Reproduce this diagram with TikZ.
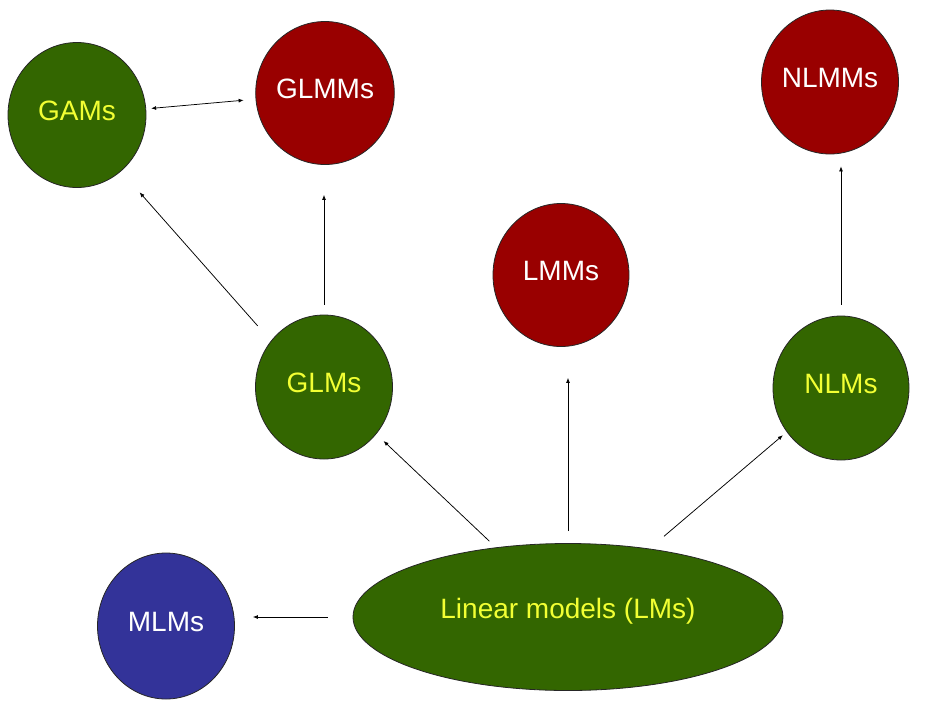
\documentclass[tikz,border=0pt]{standalone}
\usepackage{fontspec}
\setmainfont{Liberation Sans}
\usetikzlibrary{arrows.meta,shapes.geometric}
\definecolor{lmgreen}{HTML}{336600}
\definecolor{lmred}{HTML}{990000}
\definecolor{lmblue}{HTML}{333399}
\definecolor{lmyellow}{HTML}{F2FF33}

\begin{document}
\begin{tikzpicture}[x = 1pt, y = -1pt,
  model/.style = {shape = ellipse, draw = black!85, line width = 0.8pt, inner sep = 0pt, minimum width = 137pt, minimum height = 144pt, text height = 20pt, text depth = 10pt, font = \fontsize{28}{32}\selectfont},
  fixed/.style = {model, fill = lmgreen, text = lmyellow},
  mixed/.style = {model, fill = lmred, text = white},
  multi/.style = {model, fill = lmblue, text = white},
  link/.style = {line width = 0.75pt, -{Latex[length = 5pt, width = 4pt]}}]
\useasboundingbox (0,0) rectangle (930,724);
\node[fixed, minimum width = 138pt, minimum height = 145pt] (gam) at (77,115) {GAMs};
\node[mixed, minimum height = 143pt] (glmm) at (325,93) {GLMMs};
\node[mixed] (nlmm) at (830,82) {NLMMs};
\node[mixed, minimum width = 136pt, minimum height = 143pt] (lmm) at (561,275) {LMMs};
\node[fixed] (glm) at (324,387) {GLMs};
\node[fixed, minimum width = 136pt] (nlm) at (841,388) {NLMs};
\node[fixed, minimum width = 430pt, minimum height = 147pt, text depth = 18pt] (lm) at (568,617) {Linear models (LMs)};
\node[multi, minimum height = 146pt] (mlm) at (166,626) {MLMs};
\draw[link, {Latex[length = 5pt, width = 4pt]}-{Latex[length = 5pt, width = 4pt]}, shorten <= 5pt, shorten >= 12pt] (gam) -- (glmm);
\draw[link, shorten <= 20pt, shorten >= 28pt] (glm.139) -- (gam.-52);
\draw[link, shorten <= 10pt, shorten >= 30pt] (glm.north) -- (glm.north |- glmm.south);
\draw[link, shorten <= 9pt, shorten >= 10pt] (lm.136) -- (glm.-42);
\draw[link, shorten <= 12pt, shorten >= 31pt] (lm.north) -- (lm.north |- lmm.south);
\draw[link, shorten <= 19pt, shorten >= 5pt] (lm.40) -- (nlm.-141);
\draw[link, shorten <= 11pt, shorten >= 12pt] (nlm.north) -- (nlm.north |- nlmm.south);
\draw[link, shorten <= 25pt, shorten >= 18pt] (lm.west) -- (lm.west -| mlm.east);
\end{tikzpicture}
\end{document}
